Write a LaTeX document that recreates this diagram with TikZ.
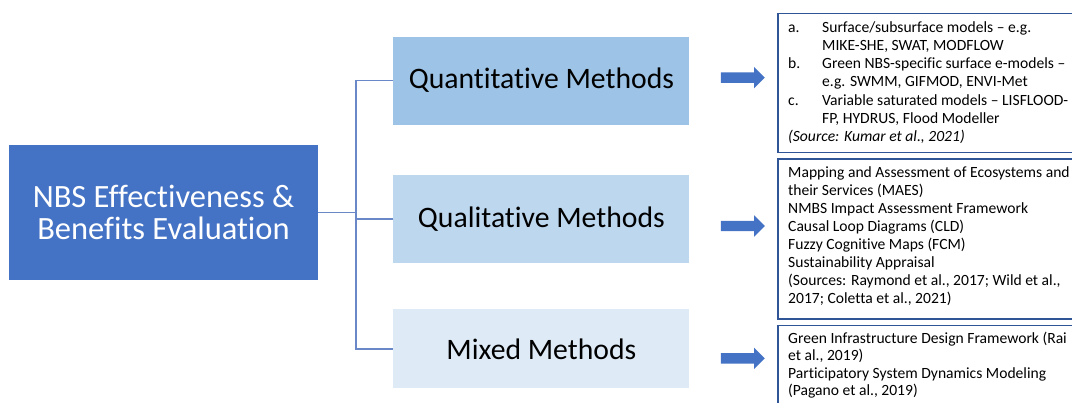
\documentclass[tikz,border=0pt]{standalone}
\usepackage{fontspec}
\setmainfont{Carlito}[Ligatures={TeX,NoCommon}]
\usepackage{xcolor}
\usetikzlibrary{positioning, shapes.arrows}

\definecolor{nbsblue}{HTML}{4472C4}
\definecolor{quantfill}{HTML}{9DC3E6}
\definecolor{qualfill}{HTML}{BDD7EE}
\definecolor{mixfill}{HTML}{DEEBF7}
\definecolor{linkblue}{HTML}{6A88C8}
\definecolor{listedge}{HTML}{2F5597}

\begin{document}
\begin{tikzpicture}[
    x=1pt, y=-1pt,
    node distance=5pt,
    rootbox/.style={fill=nbsblue, rectangle, minimum width=309pt, minimum height=135pt, align=center, text=white, font=\fontsize{32.5}{32.5}\selectfont},
    method/.style={rectangle, minimum width=296pt, minimum height=88pt, align=center, font=\fontsize{29.7}{31}\selectfont},
    listbox/.style={draw=listedge, line width=1.5pt, rectangle, minimum width=310pt},
    listtext/.style={align=left, inner sep=0pt, font=\fontsize{15.6}{18}\selectfont},
    bigarrow/.style={single arrow, fill=nbsblue, minimum height=44pt, minimum width=21pt, single arrow head extend=5.5pt, inner xsep=0pt, inner ysep=5pt},
    link/.style={draw=linkblue, line width=1.3pt}
]

\useasboundingbox (0,0) rectangle (1072,403);
\clip (0,0) rectangle (1072,403);

% Root
\node[rootbox] (nbs) at (163.5,212.5) {NBS Effectiveness \&\\ Benefits Evaluation};

% Methods
\node[method, fill=qualfill, right=75pt of nbs, yshift=-6.5pt] (qual) {Qualitative Methods};
\node[method, fill=quantfill, above=50pt of qual] (quant) {Quantitative Methods};
\node[method, fill=mixfill, minimum height=79pt, below=46pt of qual] (mixed) {Mixed Methods};

\coordinate (trunk) at (356,212.5);
\draw[link] (nbs.east) -- (nbs.east -| trunk);
\draw[link] (quant.west) -- (quant.west -| trunk) -- (mixed.west -| trunk) -- (mixed.west);
\draw[link] (qual.west) -- (qual.west -| trunk);

% Arrows
\node[bigarrow, right=31pt of quant, yshift=3pt] (arrquant) {};
\node[bigarrow, right=31pt of qual, yshift=-7pt] (arrqual) {};
\node[bigarrow, right=31pt of mixed, yshift=-9.5pt] (arrmixed) {};

% Lists
\node[listbox, anchor=north west, minimum height=139pt] (models) at (777,13) {};
\node[listbox, minimum height=160pt, below=5pt of models] (tools) {};
\node[listbox, minimum height=90pt, below=5pt of tools] (frameworks) {};

\node[listtext, font=\fontsize{15.6}{18.3}\selectfont, below right=8pt and 11pt of models.north west] (modelstxt) {%
\makebox[34pt][l]{a.}Surface/subsurface models -- e.g.\\
\hspace*{34pt}MIKE-SHE, SWAT, MODFLOW\\
\makebox[34pt][l]{b.}Green NBS-specific surface e-models --\\
\hspace*{34pt}e.g. SWMM, GIFMOD, ENVI-Met\\
\makebox[34pt][l]{c.}Variable saturated models -- LISFLOOD-\\
\hspace*{34pt}FP, HYDRUS, Flood Modeller\\
\textit{(Source: Kumar et al., 2021)}};
\node[listtext, below right=8pt and 11pt of tools.north west] (toolstxt) {%
Mapping and Assessment of Ecosystems and\\
their Services (MAES)\\
NMBS Impact Assessment Framework\\
Causal Loop Diagrams (CLD)\\
Fuzzy Cognitive Maps (FCM)\\
Sustainability Appraisal\\
(Sources: Raymond et al., 2017; Wild et al.,\\
2017; Coletta et al., 2021)};
\node[listtext, font=\fontsize{15.6}{17.2}\selectfont, below right=7pt and 11pt of frameworks.north west] (frameworkstxt) {%
Green Infrastructure Design Framework (Rai\\
et al., 2019)\\
Participatory System Dynamics Modeling\\
(Pagano et al., 2019)};

\end{tikzpicture}
\end{document}
